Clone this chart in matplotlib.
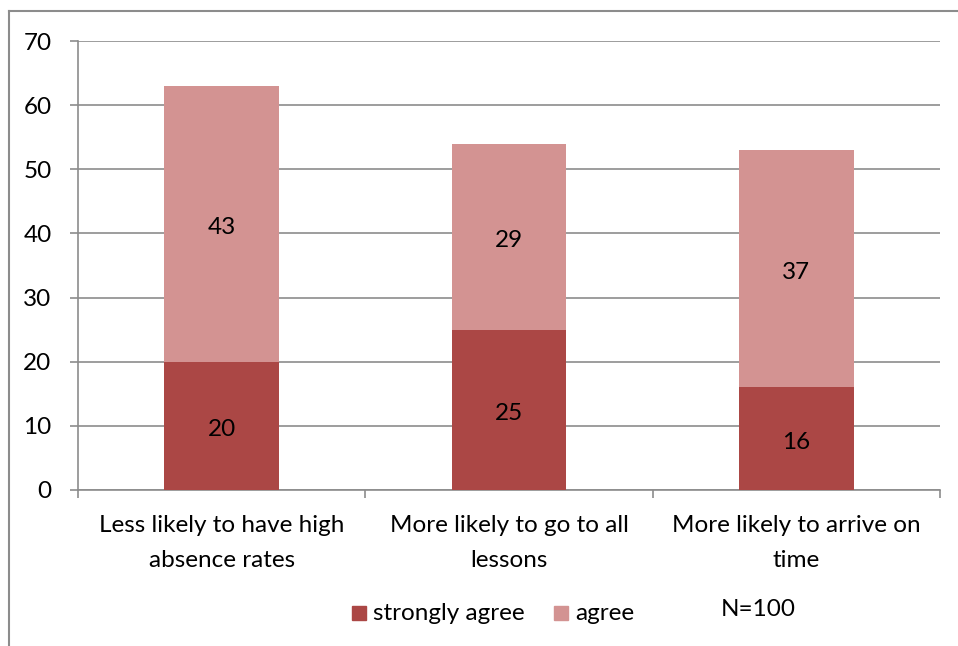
import matplotlib
matplotlib.use("Agg")
import matplotlib.pyplot as plt
from matplotlib.patches import Rectangle
import numpy as np

categories = ["Less likely to have high\nabsence rates",
              "More likely to go to all\nlessons",
              "More likely to arrive on\ntime"]
strongly_agree = [20, 25, 16]
agree = [43, 29, 37]
series_names = ["strongly agree", "agree"]
y_ticks = [0, 10, 20, 30, 40, 50, 60, 70]

c_strong = "#AB4745"
c_agree = "#D39392"
grid_c = "#8C8C8C"
FS = 17.5

plt.rcParams["font.family"] = ["Lato", "DejaVu Sans"]

W, H = 958, 646
fig = plt.figure(figsize=(W / 100, H / 100), dpi=100)

# outer chart frame (left and top edges)
fig.add_artist(plt.Line2D([9 / W, 9 / W], [0, 1 - 11 / H], color="#8C8C8C", lw=1.5))
fig.add_artist(plt.Line2D([9 / W, 1], [1 - 11 / H, 1 - 11 / H], color="#8C8C8C", lw=1.5))

left, right, top, bottom = 78, 940, 41, 490
ax = fig.add_axes([left / W, 1 - bottom / H, (right - left) / W, (bottom - top) / H])

x = np.arange(len(categories))
bw = 0.4
ax.bar(x, strongly_agree, bw, color=c_strong, zorder=3)
ax.bar(x, agree, bw, bottom=strongly_agree, color=c_agree, zorder=3)

for xi, s, a in zip(x, strongly_agree, agree):
    for val, yc in [(s, s / 2), (a, s + a / 2)]:
        ax.annotate(str(val), xy=(xi, yc), xytext=(0, -4), textcoords="offset pixels",
                    ha="center", va="center", fontsize=FS, color="black", zorder=4)

ax.set_xlim(-0.5, len(categories) - 0.5)
ax.set_ylim(0, 70)
ax.set_yticks(y_ticks)
ax.set_yticklabels([str(t) for t in y_ticks], fontsize=FS)
ax.yaxis.grid(True, color=grid_c, lw=1.2, zorder=0)
ax.tick_params(axis="y", length=6, width=1.2, color=grid_c, pad=13)

# category boundary ticks on the x axis
ax.set_xticks(np.arange(-0.5, len(categories), 1.0))
ax.set_xticklabels([])
ax.tick_params(axis="x", length=6, width=1.2, color=grid_c)
for xi, lab in zip(x, categories):
    ax.annotate(lab, xy=(xi, 0), xycoords="data", xytext=(0, -25), textcoords="offset pixels",
                ha="center", va="top", fontsize=FS, linespacing=1.8)

for side in ["top", "right"]:
    ax.spines[side].set_visible(False)
for side in ["left", "bottom"]:
    ax.spines[side].set_color(grid_c)
    ax.spines[side].set_linewidth(1.2)

# legend, laid out by hand below the plot
leg_y = 613
for (x0, tx), name, col in zip([(352, 373), (554, 575)], series_names, [c_strong, c_agree]):
    fig.add_artist(Rectangle((x0 / W, 1 - (leg_y + 7) / H), 14 / W, 14 / H,
                             transform=fig.transFigure, color=col))
    fig.text(tx / W, 1 - leg_y / H, name, ha="left", va="center", fontsize=FS)

fig.text(758 / W, 1 - 610 / H, "N=100", ha="center", va="center", fontsize=FS)

fig.savefig("out.png", dpi=100, facecolor="white")
